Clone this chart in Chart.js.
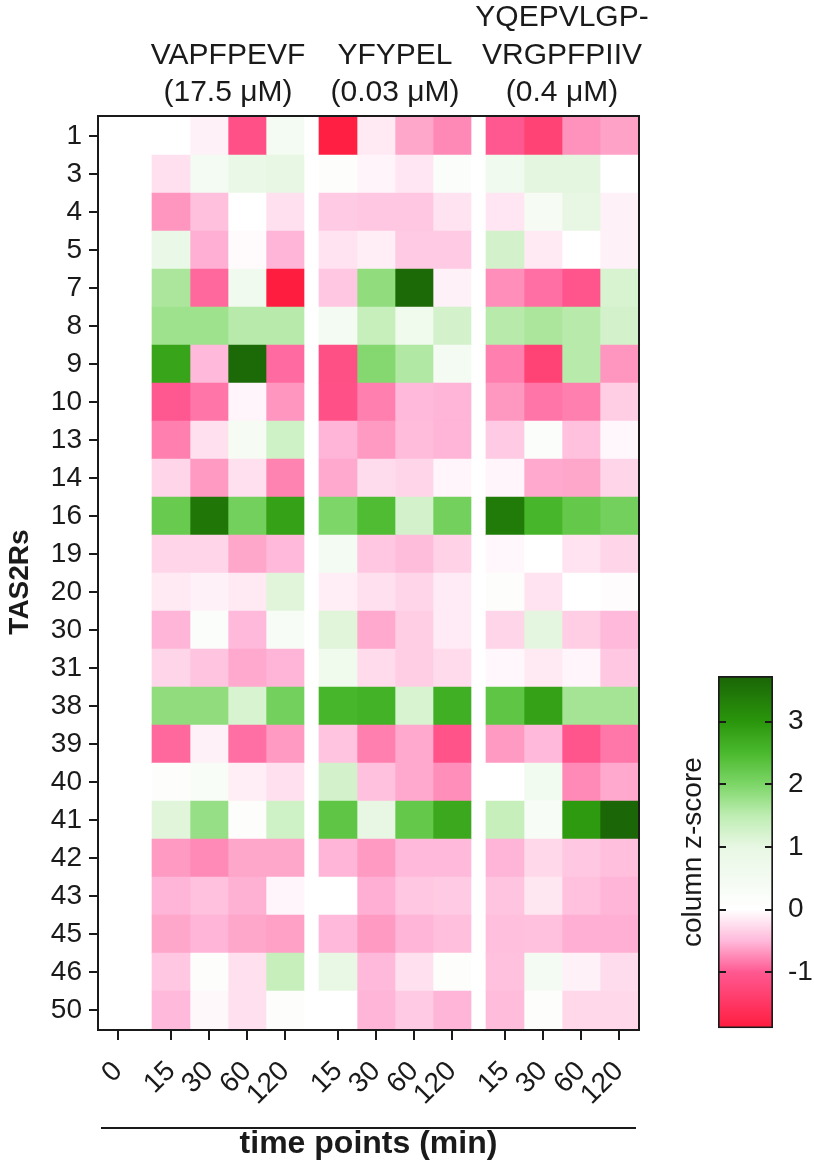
<!DOCTYPE html>
<html><head><meta charset="utf-8">
<script src="https://cdn.jsdelivr.net/npm/chart.js@4"></script>
<style>
html,body{margin:0;padding:0;background:#fff;}
#wrap{position:relative;width:814px;height:1163px;overflow:hidden;}
#main{position:absolute;left:0;top:0;}
#cb{position:absolute;left:660px;top:640px;}
</style></head><body>
<div id="wrap">
<canvas id="main" width="814" height="1163"></canvas>
<canvas id="cb" width="154" height="420"></canvas>
</div>
<script>
// ---------------- DATA ----------------
const receptors = ['1','3','4','5','7','8','9','10','13','14','16','19','20','30','31','38','39','40','41','42','43','45','46','50'];
const timeLabels = ['0','15','30','60','120','15','30','60','120','15','30','60','120'];
const peptideHeaders = [
  ['VAPFPEVF','(17.5 μM)'],
  ['YFYPEL','(0.03 μM)'],
  ['YQEPVLGP-','VRGPFPIIV','(0.4 μM)']
];
const zRange = [-1.89, 3.73];
const zTicks = [-1, 0, 1, 2, 3];

const t0     = [0,0,0,0,0,0,0,0,0,0,0,0,0,0,0,0,0,0,0,0,0,0,0,0];
const vap15  = [0,-0.22,-0.68,0.9,1.65,1.75,2.8,-1.0,-0.8,-0.3,2.2,-0.3,-0.15,-0.52,-0.3,1.85,-0.92,0.1,1.1,-0.66,-0.52,-0.6,-0.4,-0.5];
const vap30  = [-0.1,0.5,-0.45,-0.55,-0.92,1.75,-0.5,-0.85,-0.22,-0.66,3.45,-0.3,-0.1,0.2,-0.42,1.85,-0.1,0.3,1.8,-0.74,-0.44,-0.52,0.1,-0.05];
const vap60  = [-1.1,0.9,0,-0.03,0.6,1.55,3.65,-0.07,0.4,-0.22,2.1,-0.6,-0.15,-0.5,-0.58,1.2,-0.88,-0.12,0.1,-0.6,-0.54,-0.6,-0.22,-0.22];
const vap120 = [0.5,1.0,-0.22,-0.52,-1.88,1.55,-0.9,-0.68,1.3,-0.78,2.85,-0.5,1.1,0.35,-0.52,2.1,-0.66,-0.22,1.3,-0.6,-0.07,-0.63,1.4,0.1];
const yfy15  = [-1.85,0.1,-0.38,-0.2,-0.4,0.5,-1.12,-1.1,-0.52,-0.58,2.0,0.5,-0.12,1.1,0.65,2.55,-0.42,1.25,2.3,-0.52,0,-0.5,0.95,0.05];
const yfy30  = [-0.15,-0.08,-0.4,-0.12,1.85,1.4,1.95,-0.8,-0.66,-0.25,2.45,-0.4,-0.22,-0.58,-0.26,2.6,-0.8,-0.44,1.0,-0.66,-0.55,-0.66,-0.5,-0.52];
const yfy60  = [-0.6,-0.18,-0.4,-0.38,3.65,0.65,1.6,-0.5,-0.48,-0.3,1.25,-0.47,-0.3,-0.35,-0.35,1.2,-0.58,-0.58,2.25,-0.5,-0.4,-0.52,-0.22,-0.38];
const yfy120 = [-0.75,0.2,-0.2,-0.38,-0.1,1.25,0.5,-0.52,-0.52,-0.07,2.1,-0.32,-0.14,-0.14,-0.26,2.65,-1.08,-0.72,2.75,-0.5,-0.38,-0.46,0.1,-0.52];
const yqe15  = [-1.0,0.6,-0.18,1.25,-0.72,1.55,-0.8,-0.67,-0.38,-0.07,3.4,-0.06,0.1,-0.3,-0.06,2.3,-0.66,0,1.4,-0.52,-0.42,-0.46,-0.44,-0.48];
const yqe30  = [-1.3,1.05,0.4,-0.15,-0.88,1.65,-1.3,-0.85,0.2,-0.58,2.55,0,-0.2,1.05,-0.15,2.85,-0.5,0.55,0.35,-0.28,-0.17,-0.44,0.5,0.1];
const yqe60  = [-0.7,1.05,1.0,0,-1.05,1.55,1.55,-0.8,-0.44,-0.6,2.25,-0.2,0,-0.35,-0.07,1.7,-1.05,-0.74,2.95,-0.4,-0.44,-0.55,-0.1,-0.28];
const yqe120 = [-0.62,0,-0.1,-0.1,1.2,1.25,-0.68,-0.35,-0.06,-0.3,2.1,-0.3,-0.02,-0.5,-0.4,1.7,-0.84,-0.58,3.7,-0.46,-0.52,-0.55,-0.25,-0.28];

const series = [t0, vap15, vap30, vap60, vap120, yfy15, yfy30, yfy60, yfy120, yqe15, yqe30, yqe60, yqe120];

// ---------------- STYLE ----------------
const FONT = '"Liberation Sans", Arial, Helvetica, sans-serif';
const INK = '#1a1a1a';
const cmapStops = [
  [-1.89, [255, 28, 62]],
  [-1.0,  [255, 88, 145]],
  [-0.5,  [255, 185, 218]],
  [0,     [255, 255, 255]],
  [1.0,   [232, 247, 228]],
  [1.5,   [190, 237, 178]],
  [2.0,   [125, 214, 104]],
  [2.5,   [75, 185, 45]],
  [3.0,   [42, 150, 12]],
  [3.73,  [26, 100, 6]]
];
function colorFor(v) {
  if (v <= cmapStops[0][0]) return 'rgb(' + cmapStops[0][1].join(',') + ')';
  for (let i = 1; i < cmapStops.length; i++) {
    const [v1, c1] = cmapStops[i];
    const [v0, c0] = cmapStops[i - 1];
    if (v <= v1) {
      const t = (v - v0) / (v1 - v0);
      const c = c0.map((a, k) => Math.round(a + (c1[k] - a) * t));
      return 'rgb(' + c.join(',') + ')';
    }
  }
  return 'rgb(' + cmapStops[cmapStops.length - 1][1].join(',') + ')';
}

// column layout (x units): width 1 per column, gap between groups
const GAP = 15 / 38;
function colStart(i) {
  const g = i === 0 ? 0 : Math.floor((i - 1) / 4) + 1;
  return i + g * GAP;
}
const xMax = 13 + 3 * GAP;
const colCenters = timeLabels.map((_, i) => colStart(i) + 0.5);
const groupCenters = [0, 1, 2].map(g => (colStart(1 + g * 4) + colStart(4 + g * 4) + 1) / 2);

const decorPlugin = {
  id: 'decor',
  afterDatasetsDraw(chart) {
    const { ctx, chartArea: a, scales } = chart;
    ctx.save();
    // frame
    ctx.strokeStyle = INK;
    ctx.lineWidth = 2;
    ctx.strokeRect(a.left - 1, a.top - 1, a.right - a.left + 2, a.bottom - a.top + 2);
    // group headers
    ctx.fillStyle = INK;
    ctx.font = '30px ' + FONT;
    ctx.textAlign = 'center';
    ctx.textBaseline = 'middle';
    peptideHeaders.forEach((lines, g) => {
      const cx = scales.x.getPixelForValue(groupCenters[g]);
      lines.forEach((ln, i) => {
        const y = 93 - (lines.length - 1 - i) * 37.5;
        ctx.fillText(ln, cx, y);
      });
    });
    // x title + line
    ctx.beginPath();
    ctx.moveTo(101, 1128);
    ctx.lineTo(636, 1128);
    ctx.stroke();
    ctx.font = 'bold 32px ' + FONT;
    ctx.fillText('time points (min)', (a.left + a.right) / 2, 1144);
    // y title
    ctx.font = 'bold 28px ' + FONT;
    ctx.translate(20, 582);
    ctx.rotate(-Math.PI / 2);
    ctx.fillText('TAS2Rs', 0, 0);
    ctx.restore();
  }
};

const datasets = series.map((vals, i) => ({
  label: timeLabels[i],
  data: receptors.map(() => [colStart(i), colStart(i) + 1]),
  backgroundColor: vals.map(colorFor),
  borderWidth: 0,
  barPercentage: 1,
  categoryPercentage: 1,
  grouped: false
}));

new Chart(document.getElementById('main'), {
  type: 'bar',
  data: { labels: receptors, datasets },
  options: {
    indexAxis: 'y',
    responsive: false,
    animation: false,
    devicePixelRatio: 1,
    layout: { padding: { top: 117, right: 176, left: 0, bottom: 0 } },
    plugins: { legend: { display: false }, tooltip: { enabled: false } },
    scales: {
      x: {
        type: 'linear',
        min: 0,
        max: xMax,
        afterBuildTicks: s => { s.ticks = colCenters.map(v => ({ value: v })); },
        afterFit: s => { s.height = 134; },
        ticks: {
          autoSkip: false,
          minRotation: 45,
          maxRotation: 45,
          padding: 15,
          color: INK,
          font: { family: FONT, size: 28 },
          callback: (v, i) => timeLabels[i]
        },
        grid: { drawOnChartArea: false, drawTicks: true, tickLength: 11, color: INK, lineWidth: 2 },
        border: { display: false }
      },
      y: {
        type: 'category',
        afterFit: s => { s.width = 99; },
        ticks: { padding: 7, color: INK, font: { family: FONT, size: 28 } },
        grid: { offset: false, drawOnChartArea: false, drawTicks: true, tickLength: 10, color: INK, lineWidth: 2 },
        border: { display: false }
      }
    }
  },
  plugins: [decorPlugin]
});

// ---------------- COLOR BAR ----------------
const cbPlugin = {
  id: 'cbdecor',
  afterDatasetsDraw(chart) {
    const { ctx, chartArea: a, scales } = chart;
    ctx.save();
    ctx.strokeStyle = INK;
    ctx.lineWidth = 2;
    zTicks.forEach(t => {
      const y = Math.round(scales.y.getPixelForValue(t));
      ctx.beginPath();
      ctx.moveTo(a.left, y); ctx.lineTo(a.left + 8, y);
      ctx.moveTo(a.right - 8, y); ctx.lineTo(a.right, y);
      ctx.stroke();
    });
    ctx.fillStyle = INK;
    ctx.font = '28px ' + FONT;
    ctx.textAlign = 'center';
    ctx.textBaseline = 'middle';
    ctx.translate(33, (a.top + a.bottom) / 2);
    ctx.rotate(-Math.PI / 2);
    ctx.fillText('column z-score', 0, 0);
    ctx.restore();
  }
};

new Chart(document.getElementById('cb'), {
  type: 'bar',
  data: {
    labels: ['z'],
    datasets: [{
      data: [zRange],
      barPercentage: 1,
      categoryPercentage: 1,
      borderWidth: 2,
      borderColor: INK,
      borderSkipped: false,
      backgroundColor: (c) => {
        const ch = c.chart;
        if (!ch.chartArea) return '#fff';
        const ys = ch.scales.y;
        const y0 = ys.getPixelForValue(zRange[0]);
        const y1 = ys.getPixelForValue(zRange[1]);
        const g = ch.ctx.createLinearGradient(0, y0, 0, y1);
        cmapStops.forEach(([v, col]) => {
          g.addColorStop(Math.min(1, Math.max(0, (v - zRange[0]) / (zRange[1] - zRange[0]))), 'rgb(' + col.join(',') + ')');
        });
        return g;
      }
    }]
  },
  options: {
    responsive: false,
    animation: false,
    devicePixelRatio: 1,
    layout: { padding: { top: 36, bottom: 30, left: 58, right: 0 } },
    plugins: { legend: { display: false }, tooltip: { enabled: false } },
    scales: {
      x: { display: false },
      y: {
        position: 'right',
        min: zRange[0],
        max: zRange[1],
        afterFit: s => { s.width = 41; },
        afterBuildTicks: s => { s.ticks = zTicks.map(v => ({ value: v })); },
        ticks: { padding: 15, color: INK, font: { family: FONT, size: 28 } },
        grid: { display: false, drawTicks: false },
        border: { display: false }
      }
    }
  },
  plugins: [cbPlugin]
});
</script>
</body></html>
